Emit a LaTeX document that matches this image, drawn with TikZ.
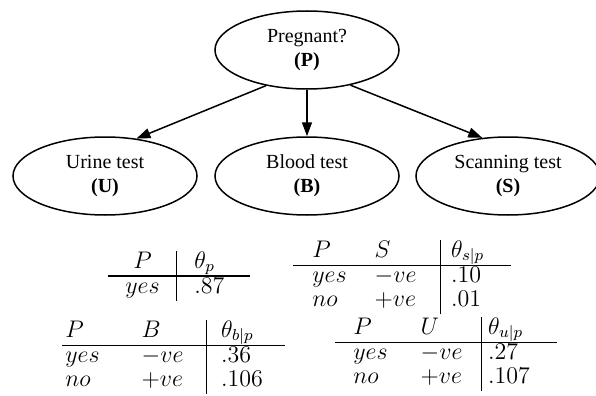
\documentclass[tikz,border=0pt]{standalone}
\usepackage[no-math]{fontspec}
\setmainfont{Liberation Serif}
\usepackage{tikz}
\usetikzlibrary{arrows.meta,shapes.geometric}
\setlength{\arrayrulewidth}{0.7pt}

\begin{document}
\begin{tikzpicture}[x=0.5pt,y=-0.5pt,
  var/.style={draw, ellipse, line width=0.75pt, minimum width=92pt, minimum height=39pt,
    inner sep=0pt, align=center, font=\fontsize{10}{12}\selectfont},
  link/.style={-{Triangle[length=7pt,width=5pt]}, line width=0.75pt},
  cpt/.style={anchor=base west, inner sep=0pt, font=\fontsize{11.5}{12}\selectfont}]
\useasboundingbox (0,0) rectangle (596,396);
\node[var] (P) at (307,50) {Pregnant?\\\textbf{(P)}};
\node[var] (U) at (105,176) {Urine test\\\textbf{(U)}};
\node[var] (B) at (307,176) {Blood test\\\textbf{(B)}};
\node[var] (S) at (508,176) {Scanning test\\\textbf{(S)}};
\draw[link] (P.221) -- (U.50);
\draw[link] (P.south) -- (B.north);
\draw[link] (P.321) -- (S.124);
\node[cpt] (thP) at (108,268) {$\begin{array}[t]{@{\hspace{8.5pt}}c@{\hspace{8.5pt}}|@{\hspace{8.5pt}}l@{\hspace{13pt}}}
  P & \theta_p \\ \hline
  yes & .87 \end{array}$};
\node[cpt] (thS) at (293,257) {$\begin{array}[t]{@{\hspace{9.5pt}}l@{\hspace{14pt}}l@{\hspace{12pt}}|@{\hspace{5pt}}l@{\hspace{13.5pt}}}
  P & S & \theta_{s|p} \\ \hline
  yes & -ve & .10 \\
  no & +ve & .01 \end{array}$};
\node[cpt] (thB) at (62,337) {$\begin{array}[t]{@{\hspace{1.5pt}}l@{\hspace{21pt}}l@{\hspace{11.5pt}}|@{\hspace{7pt}}l@{\hspace{11pt}}}
  P & B & \theta_{b|p} \\ \hline
  yes & -ve & .36 \\
  no & +ve & .106 \end{array}$};
\node[cpt] (thU) at (335,334) {$\begin{array}[t]{@{\hspace{9pt}}l@{\hspace{16.5pt}}l@{\hspace{9.5pt}}|@{\hspace{3pt}}l@{\hspace{13.5pt}}}
  P & U & \theta_{u|p} \\ \hline
  yes & -ve & .27 \\
  no & +ve & .107 \end{array}$};
\end{tikzpicture}
\end{document}
